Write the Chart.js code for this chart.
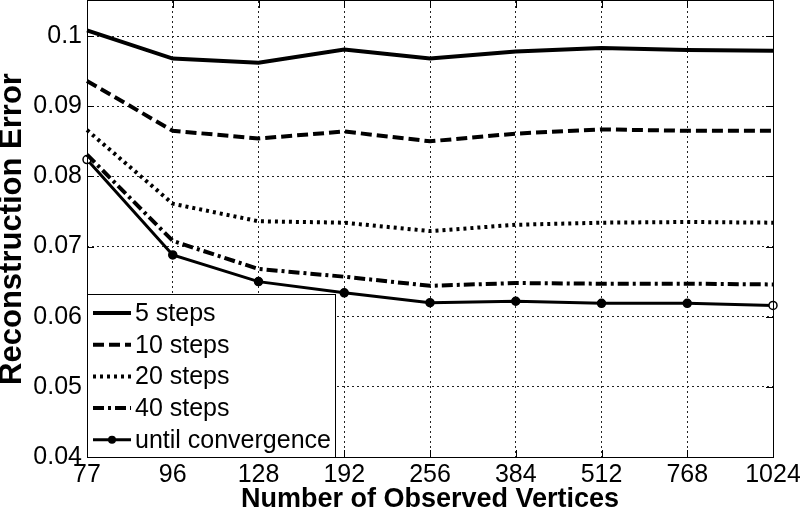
<!DOCTYPE html>
<html><head><meta charset="utf-8">
<script src="https://cdn.jsdelivr.net/npm/chart.js@4.4.1/dist/chart.umd.min.js"></script>
<style>html,body{margin:0;padding:0;background:#fff}#wrap{width:800px;height:513px;position:relative}</style>
</head><body><div id="wrap"><canvas id="c" width="800" height="513"></canvas></div>
<script>
const categories = ['77','96','128','192','256','384','512','768','1024'];
const steps5  = [0.1008,0.0968,0.0962,0.0981,0.0968,0.0978,0.0983,0.0980,0.0979];
const steps10 = [0.0936,0.0865,0.0854,0.0864,0.0850,0.0861,0.0867,0.0865,0.0865];
const steps20 = [0.0866,0.0761,0.0736,0.0734,0.0722,0.0731,0.0734,0.0735,0.0734];
const steps40 = [0.0831,0.0708,0.0668,0.0657,0.0644,0.0648,0.0647,0.0647,0.0646];
const convergence = [0.0824,0.0688,0.0650,0.0634,0.0620,0.0622,0.0619,0.0619,0.0616];
const seriesNames = ['5 steps','10 steps','20 steps','40 steps','until convergence'];
const xTitle = 'Number of Observed Vertices';
const yTitle = 'Reconstruction Error';
const yMin = 0.04, yMax = 0.105, yStep = 0.01;

const FONT = '"Liberation Sans", Arial, sans-serif';
const lastIdx = categories.length - 1;

function ds(label, data, dash, width, withPoints) {
  return {
    label, data, borderColor:'#000', backgroundColor:'#000', borderWidth: width,
    borderDash: dash, tension: 0, clip: false,
    pointRadius: withPoints ? 4 : 0, pointHoverRadius: withPoints ? 4 : 0,
    pointBorderWidth: 1.5, pointBorderColor:'#000',
    pointBackgroundColor: withPoints ? (c => (c.dataIndex === 0 || c.dataIndex === lastIdx) ? '#fff' : '#000') : '#000'
  };
}

const frameAndTicks = {
  id: 'frameAndTicks',
  afterDatasetsDraw(chart) {
    const {ctx, chartArea: a, scales} = chart;
    ctx.save();
    ctx.strokeStyle = '#000'; ctx.lineWidth = 1; ctx.setLineDash([]);
    const L = 7;
    ctx.beginPath();
    scales.x.ticks.forEach((t, i) => {
      const x = Math.round(scales.x.getPixelForTick(i)) + 0.5;
      ctx.moveTo(x, a.bottom); ctx.lineTo(x, a.bottom - L);
      ctx.moveTo(x, a.top); ctx.lineTo(x, a.top + L);
    });
    scales.y.ticks.forEach((t, i) => {
      const y = Math.round(scales.y.getPixelForTick(i)) + 0.5;
      ctx.moveTo(a.left, y); ctx.lineTo(a.left + L, y);
      ctx.moveTo(a.right, y); ctx.lineTo(a.right - L, y);
    });
    ctx.stroke();
    ctx.strokeRect(Math.round(a.left) + 0.5, Math.round(a.top) - 0.5, Math.round(a.right - a.left), Math.round(a.bottom - a.top) + 1);
    // legend box
    const bx = Math.round(a.left) + 0.5, by = 294.5, bw = 248, bh = Math.round(a.bottom) - 294;
    ctx.fillStyle = '#fff';
    ctx.fillRect(bx, by, bw, bh);
    ctx.strokeRect(bx, by, bw, bh);
    ctx.font = '25px ' + FONT;
    ctx.textBaseline = 'middle';
    ctx.textAlign = 'left';
    chart.data.datasets.forEach((d, i) => {
      const y = 313 + i * 31.7;
      ctx.save();
      ctx.strokeStyle = '#000';
      ctx.lineWidth = d.borderWidth;
      ctx.setLineDash(d.borderDash || []);
      ctx.beginPath(); ctx.moveTo(93, y); ctx.lineTo(131, y); ctx.stroke();
      if (d.pointRadius) {
        ctx.setLineDash([]);
        ctx.fillStyle = '#000';
        ctx.beginPath(); ctx.arc(112, y, 4, 0, Math.PI * 2); ctx.fill();
      }
      ctx.restore();
      ctx.fillStyle = '#000';
      ctx.fillText(d.label, 135, y + 1);
    });
    ctx.restore();
  }
};

new Chart(document.getElementById('c'), {
  type: 'line',
  data: {
    labels: categories,
    datasets: [
      ds(seriesNames[0], steps5, [], 4, false),
      ds(seriesNames[1], steps10, [11, 5], 4, false),
      ds(seriesNames[2], steps20, [3, 4], 4, false),
      ds(seriesNames[3], steps40, [11, 4, 3, 4], 4, false),
      ds(seriesNames[4], convergence, [], 3, true)
    ]
  },
  options: {
    responsive: false, animation: false, devicePixelRatio: 1,
    layout: { autoPadding: false, padding: { top: 1, right: 27, left: 0, bottom: 0 } },
    plugins: { legend: { display: false }, tooltip: { enabled: false } },
    scales: {
      x: {
        type: 'category', offset: false,
        afterFit(s) { s.height = 56; s.paddingLeft = 0; s.paddingRight = 0; },
        grid: { color: '#222', lineWidth: 1, drawTicks: false },
        border: { display: false, dash: [2, 3] },
        ticks: { color: '#000', font: { family: FONT, size: 25 }, padding: 3, autoSkip: false, maxRotation: 0 },
        title: { display: true, text: xTitle, color: '#000', font: { family: FONT, size: 27, weight: 'bold', lineHeight: 1 }, padding: 0 }
      },
      y: {
        min: yMin, max: yMax,
        afterFit(s) { s.width = 87; s.paddingTop = 0; s.paddingBottom = 0; },
        grid: { color: '#222', lineWidth: 1, drawTicks: false },
        border: { display: false, dash: [2, 3] },
        ticks: { stepSize: yStep, includeBounds: false, color: '#000', font: { family: FONT, size: 25 }, padding: 5,
          callback: v => String(Number(v.toFixed(3))) },
        title: { display: true, text: yTitle, color: '#000', font: { family: FONT, size: 31, weight: 'bold', lineHeight: '24px' }, padding: 0 }
      }
    }
  },
  plugins: [frameAndTicks]
});
</script></body></html>
